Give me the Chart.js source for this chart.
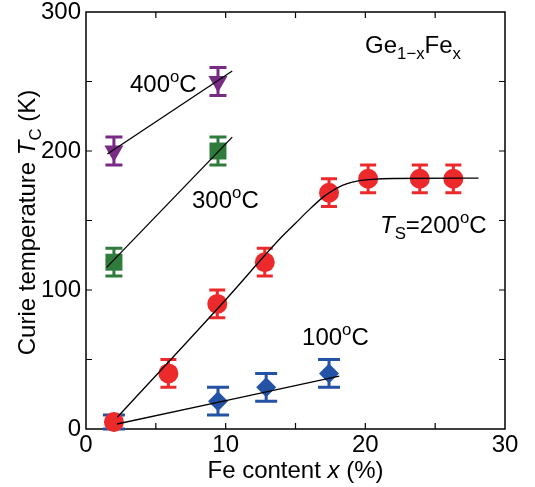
<!DOCTYPE html>
<html>
<head>
<meta charset="utf-8">
<script src="https://cdn.jsdelivr.net/npm/chart.js@4.4.0/dist/chart.umd.min.js"></script>
<style>
  html, body { margin: 0; padding: 0; background: #fff; }
  canvas { display: block; }
</style>
</head>
<body>
<canvas id="curieChart" width="535" height="487"></canvas>
<script>
// Fe content x (%) vs Curie temperature (K)
const ts200X = [2, 5.9, 9.4, 12.8, 17.4, 20.2, 23.9, 26.3];
const ts200Y = [5, 40, 90, 120, 170, 180, 180, 180];
const ts200Err = [0, 10, 10, 10, 10, 10, 10, 10];

const ts100X = [2, 9.45, 12.9, 17.4];
const ts100Y = [5, 20, 30, 40];
const ts100Err = [5, 10, 10, 10];

const ts300X = [2, 9.45];
const ts300Y = [120, 200];
const ts300Err = [10, 10];

const ts400X = [2, 9.45];
const ts400Y = [200, 250];
const ts400Err = [10, 10];

// guide lines through the points
const fit200X = [2.24, 10, 13.9, 15, 16, 17, 17.5, 18, 18.7, 19.5, 20.5, 22, 28.1];
const fit200Y = [8.4, 93, 137, 148, 158, 167, 170.5, 173.5, 176.5, 178.5, 179.6, 180.2, 180.5];
const fit100X = [2.22, 18.13];
const fit100Y = [3.6, 38.1];
const fit300X = [1.48, 10.47];
const fit300Y = [116.3, 210];
const fit400X = [1.53, 10.47];
const fit400Y = [197.8, 257.5];

const xTicks = [0, 10, 20, 30];
const yTicks = [0, 100, 200, 300];

const FONT = '"Liberation Sans", Arial, sans-serif';

function pts(xs, ys) {
  return xs.map((x, i) => ({ x, y: ys[i] }));
}

// draws a run of text pieces: [text, style] with style '', 'i', 'sub', 'sup'
function drawRich(ctx, parts, x, y, size, align) {
  const runs = parts.map(([text, style]) => {
    const small = style === 'sub' || style === 'sup';
    const fs = small ? size * 0.7 : size;
    const font = `${style === 'i' ? 'italic ' : ''}${fs}px ${FONT}`;
    ctx.font = font;
    let dy = 0;
    if (style === 'sub') dy = size * 0.26;
    if (style === 'sup') dy = -size * 0.4;
    return { text, font, dy, w: ctx.measureText(text).width };
  });
  const total = runs.reduce((s, r) => s + r.w, 0);
  let cx = align === 'center' ? x - total / 2 : x;
  ctx.textAlign = 'left';
  ctx.textBaseline = 'alphabetic';
  runs.forEach((r) => {
    ctx.font = r.font;
    ctx.fillText(r.text, cx, y + r.dy);
    cx += r.w;
  });
}

const frameAndErrors = {
  id: 'frameAndErrors',
  beforeDatasetsDraw(chart) {
    const { ctx, chartArea: a, scales } = chart;
    ctx.save();
    ctx.strokeStyle = '#000';
    ctx.lineWidth = 1.5;
    ctx.strokeRect(a.left, a.top, a.right - a.left, a.bottom - a.top);

    // inward ticks on all four sides
    ctx.lineWidth = 1.2;
    ctx.beginPath();
    for (let v = 5; v < 30; v += 5) {
      const px = scales.x.getPixelForValue(v);
      ctx.moveTo(px, a.bottom); ctx.lineTo(px, a.bottom - 6);
      ctx.moveTo(px, a.top); ctx.lineTo(px, a.top + 6);
    }
    for (let v = 50; v < 300; v += 50) {
      const py = scales.y.getPixelForValue(v);
      ctx.moveTo(a.left, py); ctx.lineTo(a.left + 6, py);
      ctx.moveTo(a.right, py); ctx.lineTo(a.right - 6, py);
    }
    ctx.stroke();

    // error bars
    chart.data.datasets.forEach((ds, i) => {
      if (!ds.errors) return;
      const meta = chart.getDatasetMeta(i);
      ctx.strokeStyle = ds.backgroundColor;
      ctx.lineWidth = 3;
      ds.data.forEach((p, j) => {
        const e = ds.errors[j];
        if (!e) return;
        const px = meta.data[j].x;
        const top = scales.y.getPixelForValue(p.y + e);
        const bot = scales.y.getPixelForValue(p.y - e);
        const h = ds.capWidth / 2;
        ctx.beginPath();
        ctx.moveTo(px, top); ctx.lineTo(px, bot);
        ctx.moveTo(px - h, top); ctx.lineTo(px + h, top);
        ctx.moveTo(px - h, bot); ctx.lineTo(px + h, bot);
        ctx.stroke();
      });
    });
    ctx.restore();
  },
  afterDraw(chart) {
    const { ctx, scales } = chart;
    const X = (v) => scales.x.getPixelForValue(v);
    const Y = (v) => scales.y.getPixelForValue(v);
    ctx.save();
    ctx.fillStyle = '#000';

    drawRich(ctx, [['400', ''], ['o', 'sup'], ['C', '']], X(3.15), Y(242.4), 24);
    drawRich(ctx, [['300', ''], ['o', 'sup'], ['C', '']], X(7.59), Y(159), 24);
    drawRich(ctx, [['100', ''], ['o', 'sup'], ['C', '']], X(15.47), Y(60.4), 24);
    drawRich(ctx, [['T', 'i'], ['S', 'sub'], ['=200', ''], ['o', 'sup'], ['C', '']], X(21.05), Y(141), 24);
    drawRich(ctx, [['Ge', ''], ['1\u2212x', 'sub'], ['Fe', ''], ['x', 'sub']], X(19.98), Y(270.5), 24);

    // axis titles
    const a = chart.chartArea;
    drawRich(ctx, [['Fe content ', ''], ['x', 'i'], [' (%)', '']], (a.left + a.right) / 2, 478, 24, 'center');
    ctx.translate(35, (a.top + a.bottom) / 2 + 2);
    ctx.rotate(-Math.PI / 2);
    drawRich(ctx, [['Curie temperature ', ''], ['T', 'i'], ['C', 'sub'], [' (K)', '']], 0, 0, 24, 'center');
    ctx.restore();
  },
};

function markerSet(label, xs, ys, errs, color, style, radius, capWidth, rotation) {
  return {
    label,
    data: pts(xs, ys),
    errors: errs,
    capWidth,
    backgroundColor: color,
    borderColor: color,
    pointStyle: style,
    pointRadius: radius,
    pointRotation: rotation || 0,
    pointBorderWidth: 0,
    showLine: false,
    clip: false,
    order: 1,
  };
}

function fitSet(label, xs, ys) {
  return {
    label,
    data: pts(xs, ys),
    showLine: true,
    borderColor: '#000',
    borderWidth: 1.3,
    pointRadius: 0,
    cubicInterpolationMode: 'monotone',
    fill: false,
    order: 0,
  };
}

document.addEventListener('DOMContentLoaded', () => {
  const ticksFont = { family: FONT, size: 24, lineHeight: 1 };

  new Chart(document.getElementById('curieChart'), {
    type: 'scatter',
    data: {
      datasets: [
        fitSet('fit 200', fit200X, fit200Y),
        fitSet('fit 100', fit100X, fit100Y),
        fitSet('fit 300', fit300X, fit300Y),
        fitSet('fit 400', fit400X, fit400Y),
        markerSet('400°C', ts400X, ts400Y, ts400Err, '#782a85', 'triangle', 11, 17, 180),
        markerSet('300°C', ts300X, ts300Y, ts300Err, '#2e7b3c', 'rect', 12, 17),
        markerSet('200°C', ts200X, ts200Y, ts200Err, '#ec2a2c', 'circle', 10, 16),
        markerSet('100°C', ts100X, ts100Y, ts100Err, '#2452a4', 'rectRot', 10, 22),
      ],
    },
    options: {
      responsive: false,
      animation: false,
      devicePixelRatio: 1,
      layout: { padding: { top: 12, right: 30, left: 0, bottom: 0 } },
      plugins: { legend: { display: false }, tooltip: { enabled: false } },
      scales: {
        x: {
          type: 'linear',
          min: 0,
          max: 30,
          afterBuildTicks: (s) => { s.ticks = xTicks.map((v) => ({ value: v })); },
          afterFit: (s) => { s.height = 58; },
          ticks: { font: ticksFont, color: '#000', padding: 4, maxRotation: 0, autoSkip: false },
          grid: { display: false, drawTicks: false },
          border: { display: false },
        },
        y: {
          type: 'linear',
          min: 0,
          max: 300,
          afterBuildTicks: (s) => { s.ticks = yTicks.map((v) => ({ value: v })); },
          afterFit: (s) => { s.width = 86; s.paddingTop = 0; s.paddingBottom = 0; },
          ticks: { font: ticksFont, color: '#000', padding: 5, autoSkip: false },
          grid: { display: false, drawTicks: false },
          border: { display: false },
        },
      },
    },
    plugins: [frameAndErrors],
  });
});
</script>
</body>
</html>
